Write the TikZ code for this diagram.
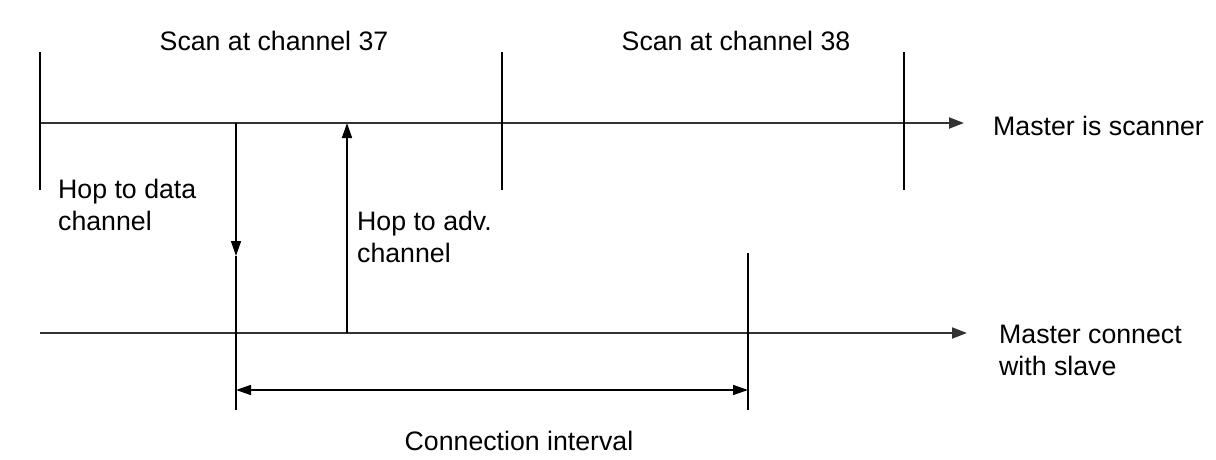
\documentclass[tikz,border=0pt]{standalone}
\usepackage{fontspec}
\setmainfont{Liberation Sans}
\usetikzlibrary{arrows.meta}
\begin{document}
\begin{tikzpicture}[x=1pt,y=-1pt,
  axis/.style={line width=2pt,draw=black!80,-{Triangle[length=15pt,width=11pt]}},
  tick/.style={line width=1.5pt,draw=black},
  arr/.style={line width=1.5pt,draw=black,-{Triangle[length=15pt,width=10pt]}},
  darr/.style={line width=1.5pt,draw=black,{Triangle[length=15pt,width=10pt]}-{Triangle[length=15pt,width=10pt]}},
  lbl/.style={font=\fontsize{26.7}{31.5}\selectfont,inner sep=0pt,align=left}]
\useasboundingbox (0,0) rectangle (1216,460);
% coordinates
\coordinate (t0) at (40,123);
\coordinate (t1) at (964,123);
\coordinate (b0) at (40,333);
\coordinate (b1) at (967,333);
\coordinate (v1a) at (40,52);  \coordinate (v1b) at (40,190);
\coordinate (v2a) at (502,52); \coordinate (v2b) at (502,190);
\coordinate (v3a) at (904,52); \coordinate (v3b) at (904,190);
\coordinate (da) at (236,123); \coordinate (dh) at (236,256); \coordinate (dz) at (236,410);
\coordinate (ua) at (347,333); \coordinate (uh) at (347,123);
\coordinate (ea) at (748,253); \coordinate (ez) at (748,410);
\coordinate (ci0) at (236,390); \coordinate (ci1) at (748,390);
% lines
\draw[axis] (t0) -- (t1);
\draw[axis] (b0) -- (b1);
\draw[tick] (v1a) -- (v1b);
\draw[tick] (v2a) -- (v2b);
\draw[tick] (v3a) -- (v3b);
\draw[arr] (da) -- (dh);
\draw[tick] (dh) -- (dz);
\draw[arr] (ua) -- (uh);
\draw[tick] (ea) -- (ez);
\draw[darr] (ci0) -- (ci1);
% labels
\node[lbl,anchor=base] (s37) at (274,51) {Scan at channel 37};
\node[lbl,anchor=base] (s38) at (736,51) {Scan at channel 38};
\node[lbl,anchor=base west] (ms) at (993,135) {Master is scanner};
\node[lbl,anchor=base west] (mc) at (999,375) {Master connect\\with slave};
\node[lbl,anchor=base west] (hd) at (58,230) {Hop to data\\channel};
\node[lbl,anchor=base west] (ha) at (357,262) {Hop to adv.\\channel};
\node[lbl,anchor=base] (ci) at (519,450) {Connection interval};
\end{tikzpicture}
\end{document}
